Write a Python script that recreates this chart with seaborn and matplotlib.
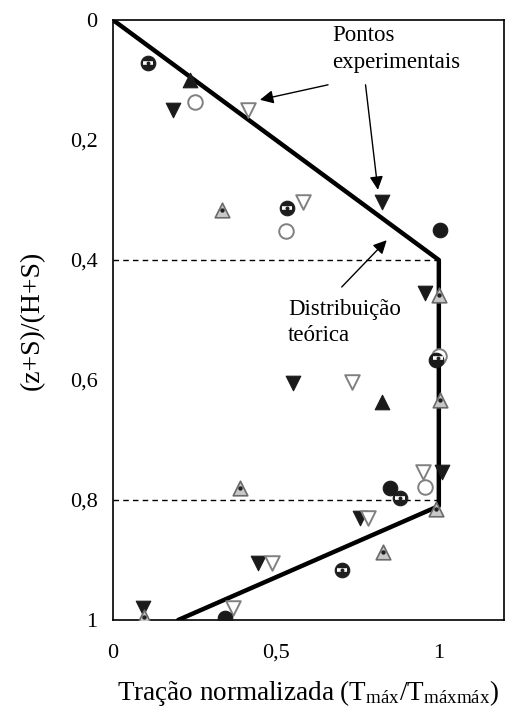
import matplotlib
matplotlib.use("Agg")
import matplotlib.pyplot as plt
import seaborn as sns

# ---------------- data ----------------
theory_x = [0.0, 1.0, 1.0, 0.2]
theory_y = [0.0, 0.4, 0.81, 1.0]

dash_levels = [0.4, 0.8]

v_fill_x = [0.184, 0.825, 0.552, 0.957, 1.01, 0.758, 0.445, 0.092]
v_fill_y = [0.15, 0.303, 0.605, 0.455, 0.753, 0.83, 0.905, 0.98]

v_open_x = [0.414, 0.583, 0.733, 0.951, 0.782, 0.488, 0.368]
v_open_y = [0.15, 0.303, 0.603, 0.753, 0.83, 0.905, 0.98]

up_fill_x = [0.236, 0.825]
up_fill_y = [0.10, 0.637]

up_dot_x = [0.334, 1.0, 1.003, 0.39, 0.828, 0.99, 0.095]
up_dot_y = [0.317, 0.458, 0.633, 0.78, 0.887, 0.815, 0.995]

circ_bar_x = [0.107, 0.534, 0.997, 0.88, 0.702]
circ_bar_y = [0.072, 0.313, 0.563, 0.797, 0.917]

circ_open_x = [0.252, 0.531, 0.957, 1.0]
circ_open_y = [0.137, 0.352, 0.778, 0.56]

circ_fill_x = [1.003, 0.85, 0.343, 0.99]
circ_fill_y = [0.35, 0.78, 0.997, 0.567]

x_ticks = [0, 0.25, 0.5, 0.75, 1.0]
x_ticklabels = ["0", "", "0,5", "", "1"]
y_ticks = [0, 0.2, 0.4, 0.6, 0.8, 1.0]
y_ticklabels = ["0", "0,2", "0,4", "0,6", "0,8", "1"]

# ---------------- style ----------------
sns.set_theme(style="white")
plt.rcParams["font.family"] = ["Liberation Serif", "DejaVu Serif"]
plt.rcParams["mathtext.fontset"] = "custom"
plt.rcParams["mathtext.rm"] = "Liberation Serif"
plt.rcParams["mathtext.it"] = "Liberation Serif:italic"

fig = plt.figure(figsize=(5.07, 7.13), dpi=100)
ax = fig.add_axes([113 / 507, 1 - 620 / 713, 391 / 507, 600 / 713])

# dashed reference lines
for lv in dash_levels:
    sns.lineplot(x=[0, 1.0], y=[lv, lv], ax=ax, color="black", lw=1.0,
                 linestyle=(0, (4, 3)), sort=False, estimator=None)

# theoretical distribution
sns.lineplot(x=theory_x, y=theory_y, ax=ax, color="black", lw=3.2,
             sort=False, estimator=None, zorder=3)

ms = 110
# filled down triangles
sns.scatterplot(x=v_fill_x, y=v_fill_y, ax=ax, marker="v", s=ms,
                color="#1a1a1a", edgecolor="#1a1a1a", linewidth=0.8, zorder=4)
# open down triangles
sns.scatterplot(x=v_open_x, y=v_open_y, ax=ax, marker="v", s=ms,
                facecolor="white", edgecolor="#808080", linewidth=1.4, zorder=4)
# filled up triangles
sns.scatterplot(x=up_fill_x, y=up_fill_y, ax=ax, marker="^", s=ms,
                color="#1a1a1a", edgecolor="#1a1a1a", linewidth=0.8, zorder=4)
# gray up triangles with dot
sns.scatterplot(x=up_dot_x, y=up_dot_y, ax=ax, marker="^", s=ms,
                facecolor="#c8c8c8", edgecolor="#6a6a6a", linewidth=1.2, zorder=4)
sns.scatterplot(x=up_dot_x, y=up_dot_y, ax=ax, marker="o", s=10,
                color="#202020", linewidth=0, zorder=5)
# circles with bar pattern
sns.scatterplot(x=circ_bar_x, y=circ_bar_y, ax=ax, marker="o", s=ms,
                color="#1e1e1e", edgecolor="#1e1e1e", linewidth=0.8, zorder=4)
sns.scatterplot(x=circ_bar_x, y=circ_bar_y, ax=ax, marker="_", s=58,
                color="white", linewidth=2.6, zorder=5)
sns.scatterplot(x=circ_bar_x, y=circ_bar_y, ax=ax, marker="o", s=8,
                color="#1e1e1e", linewidth=0, zorder=6)
# open circles
sns.scatterplot(x=circ_open_x, y=circ_open_y, ax=ax, marker="o", s=ms,
                facecolor="white", edgecolor="#808080", linewidth=1.4, zorder=4)
# filled circles
sns.scatterplot(x=circ_fill_x, y=circ_fill_y, ax=ax, marker="o", s=ms,
                color="#1a1a1a", edgecolor="#1a1a1a", linewidth=0.8, zorder=4)

ax.set_xlim(0, 1.2)
ax.set_ylim(1.0, 0.0)
ax.set_xticks(x_ticks)
ax.set_xticklabels(x_ticklabels)
ax.set_yticks(y_ticks)
ax.set_yticklabels(y_ticklabels)
ax.tick_params(axis="both", direction="out", length=5, width=1.0,
               labelsize=16, colors="black", pad=6)
ax.tick_params(axis="x", pad=12)
for sp in ax.spines.values():
    sp.set_visible(True)
    sp.set_color("black")
    sp.set_linewidth(1.2)

ax.set_xlabel(r"Tração normalizada (T$_{\mathrm{máx}}$/T$_{\mathrm{máxmáx}}$)",
              fontsize=19.5, labelpad=11, color="black")
ax.set_ylabel("(z+S)/(H+S)", fontsize=20, labelpad=18, color="black")

# annotations
ax.text(0.672, 0.048, "Pontos\nexperimentais", ha="left", va="center",
        fontsize=16.5, linespacing=1.38, color="black")
arrow = dict(arrowstyle="-|>", color="black", lw=1.0, mutation_scale=20,
             shrinkA=0, shrinkB=0)
ax.annotate("", xy=(0.451, 0.133), xytext=(0.66, 0.108), arrowprops=arrow)
ax.annotate("", xy=(0.813, 0.283), xytext=(0.775, 0.108), arrowprops=arrow)

ax.text(0.537, 0.504, "Distribuição\nteórica", ha="left", va="center",
        fontsize=16.5, linespacing=1.28, color="black")
ax.annotate("", xy=(0.84, 0.367), xytext=(0.702, 0.445), arrowprops=arrow)

fig.savefig("out.png", dpi=100, facecolor="white")
